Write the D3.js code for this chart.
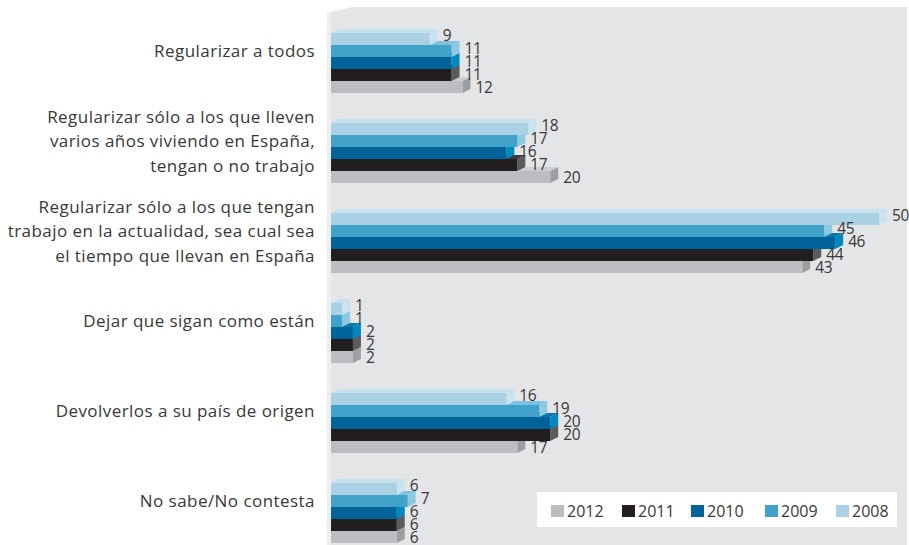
<!DOCTYPE html>
<html>
<head>
<meta charset="utf-8">
<script src="https://cdn.jsdelivr.net/npm/d3@7"></script>
<style>
  body { margin: 0; background: #fff; }
  text { font-family: "Open Sans", "Noto Sans", sans-serif; fill: #383838; }
</style>
</head>
<body>
<script>
width = 909
height = 545

// categories (one label per line)
var categories = [
  ["Regularizar a todos"],
  ["Regularizar sólo a los que lleven", "varios años viviendo en España,", "tengan o no trabajo"],
  ["Regularizar sólo a los que tengan", "trabajo en la actualidad, sea cual sea", "el tiempo que llevan en España"],
  ["Dejar que sigan como están"],
  ["Devolverlos a su país de origen"],
  ["No sabe/No contesta"]
];
var years = ["2008", "2009", "2010", "2011", "2012"];

// % per category, one array per year
var v2008 = [9, 18, 50, 1, 16, 6];
var v2009 = [11, 17, 45, 1, 19, 7];
var v2010 = [11, 16, 46, 2, 20, 6];
var v2011 = [11, 17, 44, 2, 20, 6];
var v2012 = [12, 20, 43, 2, 17, 6];
var series = {"2008": v2008, "2009": v2009, "2010": v2010, "2011": v2011, "2012": v2012};

var legendYears = ["2012", "2011", "2010", "2009", "2008"];

var colors = {
  "2008": {front: "#a9d0e3", top: "#c6e1ee", side: "#cae3ef"},
  "2009": {front: "#40a2c9", top: "#7fc2df", side: "#8dc9e3"},
  "2010": {front: "#00649b", top: "#0a77ad", side: "#0089be"},
  "2011": {front: "#231f20", top: "#3c3a3b", side: "#5b5b5d"},
  "2012": {front: "#bcbdc0", top: "#cdcecf", side: "#9d9ea1"}
};

var dx = 8, dy = 4;

var svg = d3.select("body").append("svg")
    .attr("width", width)
    .attr("height", height);

// background panel
svg.append("path")
    .attr("d", "M327,13L352,7L907,7L907,545L327,545Z")
    .attr("fill", "#e4e5e7");
svg.append("path")
    .attr("d", "M327,13L331,12L331,545L327,545Z")
    .attr("fill", "#eeeef0");

var idx = d3.range(categories.length);

var y = d3.scaleBand()
    .domain(idx)
    .range([33, 543])
    .paddingInner(1 / 3)
    .paddingOuter(0);

var yInner = d3.scaleBand()
    .domain(years)
    .range([0, y.bandwidth()]);

var x = d3.scaleLinear()
    .domain([0, 50])
    .range([331, 879]);

// category labels
var lab = svg.append("g").selectAll("text")
  .data(idx).enter()
  .append("text")
    .attr("text-anchor", "end")
    .style("font-size", "17px")
    .style("letter-spacing", "0.45px");

lab.each(function(i) {
  var lines = categories[i];
  var cy = y(i) + y.bandwidth() / 2 - 12;
  var t = d3.select(this);
  lines.forEach(function(l, k) {
    t.append("tspan")
      .attr("x", 315)
      .attr("y", cy + (k - (lines.length - 1) / 2) * 24.5 + 6)
      .text(l);
  });
});

// bars, drawn from the bottom (2012) up so upper bars cover lower ones
var drawOrder = years.slice().reverse();
var bars = svg.append("g");

idx.forEach(function(i) {
  drawOrder.forEach(function(yr) {
    var v = series[yr][i];
    var top = y(i) + yInner(yr);
    var bot = top + yInner.bandwidth();
    var x0 = x(0), xe = x(v);
    var c = colors[yr];
    var g = bars.append("g");
    g.append("path")
      .attr("d", `M${xe},${top}L${xe + dx},${top - dy}L${xe + dx},${bot - dy}L${xe},${bot}Z`)
      .attr("fill", c.side);
    g.append("path")
      .attr("d", `M${x0},${top}L${x0 + dx},${top - dy}L${xe + dx},${top - dy}L${xe},${top}Z`)
      .attr("fill", c.top);
    g.append("rect")
      .attr("x", x0)
      .attr("y", top)
      .attr("width", xe - x0)
      .attr("height", bot - top)
      .attr("fill", c.front);
  });
});

// value labels, spaced slightly wider than the bars
idx.forEach(function(i) {
  years.forEach(function(yr, k) {
    var v = series[yr][i];
    var cy = y(i) + 2 + k * 13;
    svg.append("text")
      .attr("x", x(v) + 13)
      .attr("y", cy + 5.5)
      .style("font-size", "15.5px")
      .style("letter-spacing", "-0.4px")
      .text(v);
  });
});

// legend
var lg = svg.append("g");
lg.append("rect")
    .attr("x", 537).attr("y", 492)
    .attr("width", 360).attr("height", 35)
    .attr("fill", "#fff");
var legX = [551, 622, 691, 765, 836];
legendYears.forEach(function(yr, k) {
  lg.append("rect")
    .attr("x", legX[k]).attr("y", 505)
    .attr("width", 13).attr("height", 12)
    .attr("fill", colors[yr].front);
  lg.append("text")
    .attr("x", legX[k] + 16)
    .attr("y", 517)
    .style("font-size", "16px")
    .text(yr);
});
</script>
</body>
</html>
